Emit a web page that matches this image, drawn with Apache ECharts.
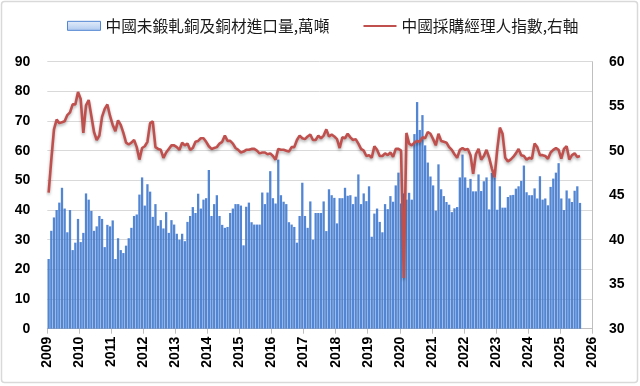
<!DOCTYPE html>
<html><head><meta charset="utf-8">
<script src="https://cdn.jsdelivr.net/npm/echarts@6/dist/echarts.min.js"></script>
<style>html,body{margin:0;padding:0;background:#fff}#c{width:640px;height:386px}</style>
</head><body><div id="c"></div>
<script>
// Monthly data, 2009-01 .. 2025-08
const copperImports = [
 23.5,33,37.5,40,42.5,47.5,40.5,32.5,40,26.5,29,37,          // 2009
 29.2,32.3,45.6,43.5,39.7,33,34.5,38,37,27.5,35,34.5,       // 2010
 36.5,23.5,30.5,26.5,25.5,28,30.5,34,38,38.5,45.2,51,       // 2011
 41.5,48.7,46.2,37.7,42,34.7,36.6,33.8,39.3,32.3,36.6,35.1, // 2012
 32,30,32,29.5,36,38,41,39,45.5,40.5,43.5,44,               // 2013
 53.5,38,42,45,38,35,34,34.3,39,40.5,42,42,                 // 2014
 41.5,28.1,41.1,42.5,35.9,35.1,35.1,35.1,45.9,42,45.9,53.1, // 2015
 44,42.2,57,45,42.8,42,35.9,35.1,34.3,29,38,49.2,           // 2016
 38,34,42.9,30,39,39,39,42.9,32.9,47,45,44.1,               // 2017
 35.5,44,44,47.5,44.8,45,42,44.5,52,42,45.6,43,             // 2018
 48,31,38.8,40.5,36,32.5,42,40.3,44.7,42.8,48.3,52.6,       // 2019
 42.2,45.6,43.5,45.8,43.5,65.6,76.4,67,72,61.8,56,51.3,     // 2020
 48.3,39.8,55.4,47,44.7,42.7,41.8,39.3,40.6,41,51,58.7,     // 2021
 51,47.5,50.5,46.3,46.3,52,46.4,49.7,51,40.2,52.5,51,       // 2022
 40.1,48,40.8,40.8,44.4,45,45.1,47.2,48,49.8,55,46,         // 2023
 45,45,47.3,43.9,51.4,43.5,43.9,41.6,47.8,50.6,52.6,55.8,   // 2024
 43.9,40,46.6,43.9,42.7,46.5,48,42.4                        // 2025
];
const pmi = [
 45.3,49.0,52.4,53.5,53.1,53.2,53.3,54.0,54.3,55.2,55.2,56.6, // 2009
 55.8,52.0,55.1,55.7,53.9,52.1,51.2,51.7,53.8,54.7,55.2,53.9, // 2010
 52.9,52.2,53.4,52.9,52.0,50.9,50.7,50.9,51.2,50.4,49.0,50.3, // 2011
 50.5,51.0,53.1,53.3,50.4,50.2,50.1,49.2,49.8,50.2,50.6,50.6, // 2012
 50.4,50.1,50.9,50.6,50.8,50.1,50.3,51.0,51.1,51.4,51.4,51.0, // 2013
 50.5,50.2,50.3,50.4,50.8,51.0,51.7,51.1,51.1,50.8,50.3,50.1, // 2014
 49.8,49.9,50.1,50.1,50.2,50.2,50.0,49.7,49.8,49.8,49.6,49.7, // 2015
 49.4,49.0,50.2,50.1,50.1,50.0,49.9,50.4,50.4,51.2,51.7,51.4, // 2016
 51.3,51.6,51.8,51.2,51.2,51.7,51.4,51.7,52.4,51.6,51.8,51.6, // 2017
 51.3,50.3,51.5,51.4,51.9,51.5,51.2,51.3,50.8,50.2,50.0,49.4, // 2018
 49.5,49.2,50.5,50.1,49.4,49.4,49.7,49.5,49.8,49.3,50.2,50.2, // 2019
 50.0,35.7,52.0,50.8,50.6,50.9,51.1,51.0,51.5,51.4,52.1,51.9, // 2020
 51.3,50.6,51.9,51.1,51.0,50.9,50.4,50.1,49.6,49.2,50.1,50.3, // 2021
 50.1,50.2,49.5,47.4,49.6,50.2,49.0,49.4,50.1,49.2,48.0,47.0, // 2022
 50.1,52.6,51.9,49.2,48.8,49.0,49.3,49.7,50.2,49.5,49.4,49.0, // 2023
 49.2,49.1,50.8,50.4,49.5,49.5,49.4,49.1,49.8,50.1,50.3,50.1, // 2024
 49.1,50.2,50.5,49.0,49.5,49.7,49.3,49.4                      // 2025
];
const yearLabels = ['2009','2010','2011','2012','2013','2014','2015','2016','2017','2018','2019','2020','2021','2022','2023','2024','2025','2026'];
const barName = '中國未鍛軋銅及銅材進口量,萬噸';
const lineName = '中國採購經理人指數,右軸';

const barData = copperImports.map((v, i) => [i + 0.5, v]);
const lineData = pmi.map((v, i) => [i + 0.5, v]);

const axisFont = {fontFamily: 'Liberation Sans', fontWeight: 'bold', fontSize: 14, color: '#000'};

const chart = echarts.init(document.getElementById('c'), null, {renderer: 'canvas'});
chart.setOption({
  animation: false,
  backgroundColor: '#fff',
  graphic: [{
    type: 'rect', silent: true, z: -10,
    shape: {x: 1.5, y: 1.5, width: 636, height: 381, r: 3},
    style: {fill: 'none', stroke: '#d9d9d9', lineWidth: 1.5}
  }],
  legend: {
    top: 13, left: 62,
    itemWidth: 33, itemHeight: 9, itemGap: 34,
    textStyle: {fontFamily: 'Noto Sans CJK TC', fontSize: 15.7, color: '#1a1a1a'},
    data: [
      {name: barName, icon: 'rect', itemStyle: {
        color: new echarts.graphic.LinearGradient(0, 0, 0, 1, [{offset: 0, color: '#e3ecfa'}, {offset: 1, color: '#a9c5ee'}]),
        borderColor: '#4a80d0', borderWidth: 1}},
      {name: lineName,
       icon: 'path://M0,0 L0.01,0 Z M0,9 L0.01,9 Z M0,3.6 L33,3.6 L33,5.6 L0,5.6 Z',
       itemStyle: {color: '#c0504d', borderWidth: 0}}
    ]
  },
  grid: {left: 47.3, right: 48, top: 61.7, bottom: 57.3},
  xAxis: {
    type: 'value', min: 0, max: 204, interval: 12,
    axisLine: {show: true, onZero: false, lineStyle: {color: '#bfbfbf'}},
    axisTick: {show: true, length: 5, lineStyle: {color: '#bfbfbf'}},
    splitLine: {show: false},
    axisLabel: Object.assign({rotate: 90, margin: 8, formatter: v => yearLabels[Math.round(v / 12)]}, axisFont)
  },
  yAxis: [
    {type: 'value', min: 0, max: 90, interval: 10,
     axisLine: {show: false}, axisTick: {show: false},
     splitLine: {show: true, lineStyle: {color: '#d9d9d9', width: 1}},
     axisLabel: Object.assign({margin: 17}, axisFont)},
    {type: 'value', min: 30, max: 60, interval: 5, position: 'right',
     axisLine: {show: true, lineStyle: {color: '#bfbfbf'}}, axisTick: {show: false},
     splitLine: {show: false},
     axisLabel: Object.assign({margin: 17}, axisFont)}
  ],
  series: [
    {name: barName, type: 'bar', xAxisIndex: 0, yAxisIndex: 0, data: barData,
     barWidth: 2.3, itemStyle: {color: '#4a80d0', opacity: 0.95}},
    {name: lineName, type: 'line', xAxisIndex: 0, yAxisIndex: 1, data: lineData,
     symbol: 'none', smooth: false,
     lineStyle: {color: '#c0504d', width: 2.6, shadowColor: 'rgba(0,0,0,0.3)', shadowBlur: 3, shadowOffsetY: 2},
     itemStyle: {color: '#c0504d'}}
  ]
});
</script></body></html>
